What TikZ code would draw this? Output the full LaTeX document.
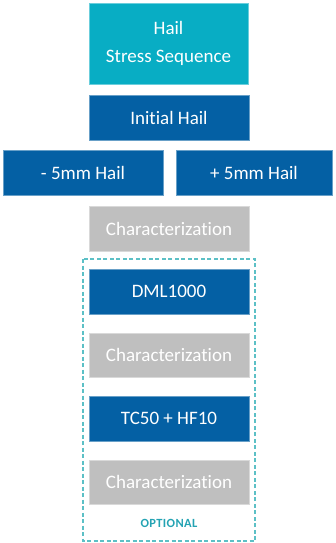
\documentclass[tikz,border=0pt]{standalone}
\usepackage{fontspec}
\setmainfont[Ligatures=NoCommon]{Carlito}
\definecolor{tealtop}{HTML}{08ADC4}
\definecolor{darkblue}{HTML}{0460A4}
\definecolor{greybox}{HTML}{BFBFBF}
\definecolor{dashteal}{HTML}{5CC0C6}
\definecolor{opttext}{HTML}{24A3B3}
\begin{document}
\begin{tikzpicture}[x=1pt,y=-1pt,
  box/.style={draw=#1!60!white, line width=0.6pt, fill=#1, text=white, inner sep=0pt,
    font=\fontsize{19}{22}\selectfont, align=center}]
\useasboundingbox (0,0) rectangle (335,543);
\node[box=tealtop, minimum width=159pt, minimum height=81pt] (hail) at (168.5,43.5) {Hail\\[6pt]Stress Sequence};
\node[box=darkblue, minimum width=160pt, minimum height=45pt] (init) at (169,117.5) {Initial Hail};
\node[box=darkblue, minimum width=160pt, minimum height=45pt] (minus) at (83,172.5) {- 5mm Hail};
\node[box=darkblue, minimum width=156pt, minimum height=45pt] (plus) at (254,172.5) {+ 5mm Hail};
\node[box=greybox, minimum width=160pt, minimum height=45pt] (char1) at (169,228.5) {Characterization};
\node[box=darkblue, minimum width=160pt, minimum height=45pt] (dml) at (169,291.5) {DML1000};
\node[box=greybox, minimum width=160pt, minimum height=44pt] (char2) at (169,355) {Characterization};
\node[box=darkblue, minimum width=160pt, minimum height=45pt] (tc) at (169,418.5) {TC50 + HF10};
\node[box=greybox, minimum width=160pt, minimum height=44pt] (char3) at (169,482) {Characterization};
\node[text=opttext, font=\fontsize{12.5}{14}\selectfont\bfseries, inner sep=0pt] (opt) at (169,523) {O\kern0.4pt P\kern0.4pt T\kern0.4pt I\kern0.4pt O\kern0.4pt N\kern0.4pt A\kern0.4pt L};
\draw[dashteal, line width=1.2pt, dash pattern=on 4pt off 2.5pt] (83,259) rectangle (255,541);
\end{tikzpicture}
\end{document}
